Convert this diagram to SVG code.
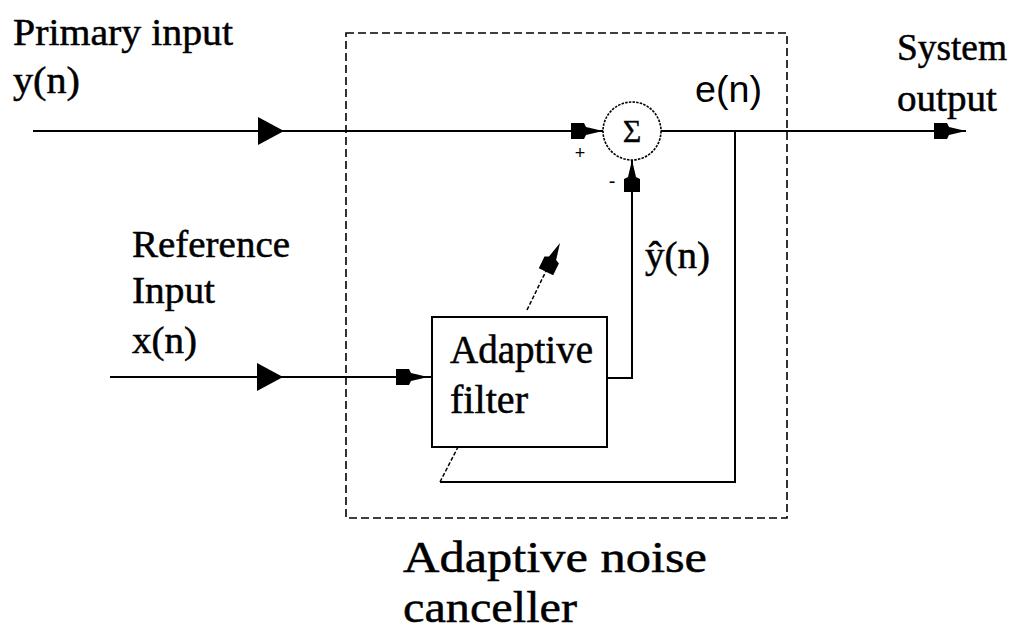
<svg xmlns="http://www.w3.org/2000/svg" width="1015" height="641" viewBox="0 0 1015 641">
<style>
.ln{fill:none;stroke:#000;stroke-width:2}
.dsh{fill:none;stroke:#000;stroke-width:1.6;stroke-dasharray:8,4}
.serif{font-family:"Liberation Serif","Times New Roman",serif;fill:#000;stroke:#000;stroke-width:0.5}
.sans{font-family:"Liberation Sans",Arial,sans-serif;fill:#000}
</style>
<defs>
<polygon id="bigArrow" points="0,0 -26,-14 -26,14"/>
<polygon id="smallArrow" points="0,0 -17,-4 -19,-8 -32,-8 -32,8 -19,8 -17,4"/>
</defs>
<rect fill="#fff" width="1015" height="641"/>

<g id="canceller-box">
<rect class="dsh" x="346" y="33" width="441" height="485"/>
<text class="serif" font-size="45" x="403" y="572" textLength="304" lengthAdjust="spacingAndGlyphs">Adaptive noise</text>
<text class="serif" font-size="45" x="403" y="622" textLength="174" lengthAdjust="spacingAndGlyphs">canceller</text>
</g>

<g id="primary-input">
<text class="serif" font-size="38" x="13" y="45" textLength="220" lengthAdjust="spacingAndGlyphs">Primary input</text>
<text class="serif" font-size="38" x="13" y="93" textLength="67" lengthAdjust="spacingAndGlyphs">y(n)</text>
</g>

<g id="reference-input">
<text class="serif" font-size="38" x="132" y="257" textLength="158" lengthAdjust="spacingAndGlyphs">Reference</text>
<text class="serif" font-size="38" x="132" y="303" textLength="83" lengthAdjust="spacingAndGlyphs">Input</text>
<text class="serif" font-size="38" x="132" y="353" textLength="65" lengthAdjust="spacingAndGlyphs">x(n)</text>
</g>

<g id="system-output">
<text class="serif" font-size="38" x="897" y="60" textLength="110" lengthAdjust="spacingAndGlyphs">System</text>
<text class="serif" font-size="38" x="897" y="111" textLength="100" lengthAdjust="spacingAndGlyphs">output</text>
</g>

<g id="summer">
<circle cx="632" cy="131" r="29" fill="#fff" stroke="#000" stroke-width="1.6" stroke-dasharray="2.5,1.2"/>
<text class="serif" font-size="32" x="632" y="142" text-anchor="middle" style="stroke-width:0.3">Σ</text>
<text class="sans" font-size="18" x="580" y="159" text-anchor="middle">+</text>
<text class="sans" font-size="20" x="612" y="188" text-anchor="middle">-</text>
</g>

<g id="adaptive-filter">
<rect x="432" y="317" width="175" height="130" fill="#fff" stroke="#000" stroke-width="2"/>
<text class="serif" font-size="39" x="450" y="363" textLength="143" lengthAdjust="spacingAndGlyphs">Adaptive</text>
<text class="serif" font-size="39" x="450" y="413" textLength="78" lengthAdjust="spacingAndGlyphs">filter</text>
</g>

<g id="connectors">
<path class="ln" d="M33,131 H603"/>
<use href="#bigArrow" x="284" y="131"/>
<use href="#smallArrow" x="603" y="131"/>

<path class="ln" d="M110,377 H432"/>
<use href="#bigArrow" x="283" y="377"/>
<use href="#smallArrow" x="428" y="377"/>

<path class="ln" d="M607,378 H632 V160"/>
<use href="#smallArrow" transform="translate(632,160) rotate(-90)"/>

<path class="ln" d="M661,131 H966"/>
<use href="#smallArrow" x="966" y="131"/>

<path class="ln" d="M735,131 V482 H440"/>
<path fill="none" stroke="#000" stroke-width="1.5" stroke-dasharray="4,2" d="M440,482 L458,447"/>

<path fill="none" stroke="#000" stroke-width="1.5" stroke-dasharray="4,2" d="M527,310 L548,267"/>
<use href="#smallArrow" transform="translate(560,243) rotate(-64)"/>

<text class="sans" font-size="37" x="695" y="102" textLength="67" lengthAdjust="spacingAndGlyphs">e(n)</text>
<text class="serif" font-size="38" x="645" y="268" textLength="65" lengthAdjust="spacingAndGlyphs">ŷ(n)</text>
</g>
</svg>
